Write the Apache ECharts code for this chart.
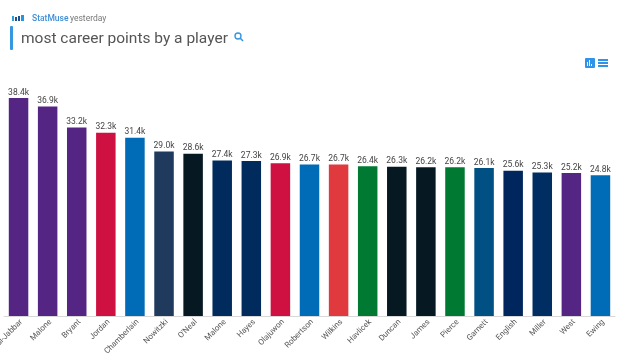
<!DOCTYPE html>
<html>
<head>
<meta charset="utf-8">
<style>
  html, body { margin: 0; padding: 0; background: #fff; }
  #main { width: 620px; height: 358px; }
</style>
<script src="https://cdn.jsdelivr.net/npm/echarts@6/dist/echarts.min.js"></script>
</head>
<body>
<div id="main"></div>
<script>
var players = ['Abdul-Jabbar', 'Malone', 'Bryant', 'Jordan', 'Chamberlain', 'Nowitzki', "O'Neal", 'Malone', 'Hayes', 'Olajuwon', 'Robertson', 'Wilkins', 'Havlicek', 'Duncan', 'James', 'Pierce', 'Garnett', 'English', 'Miller', 'West', 'Ewing'];
var points = [38.4, 36.9, 33.2, 32.3, 31.4, 29.0, 28.6, 27.4, 27.3, 26.9, 26.7, 26.7, 26.4, 26.3, 26.2, 26.2, 26.1, 25.6, 25.3, 25.2, 24.8];
var teamColors = ['#552583', '#552583', '#552583', '#ce1141', '#006bb6', '#203a5e', '#061922', '#002b5c', '#002b5c', '#ce1141', '#006bb6', '#e03a3e', '#007a33', '#061922', '#061922', '#007a33', '#005083', '#00275d', '#002d62', '#552583', '#006bb6'];

var myChart = echarts.init(document.getElementById('main'));

// bars coloured per player
var barData = points.map(function (v, i) {
  return { value: v, itemStyle: { color: teamColors[i] } };
});

var option = {
  animation: false,
  textStyle: { fontFamily: 'Roboto' },
  grid: { left: 4, right: 5, top: 89, bottom: 42, outerBoundsMode: 'none' },
  xAxis: {
    type: 'category',
    data: players,
    axisLine: { lineStyle: { color: '#d8d8d8', width: 1 } },
    axisTick: { alignWithLabel: true, length: 3, lineStyle: { color: '#d8d8d8' } },
    axisLabel: { interval: 0, rotate: 45, color: '#555', fontSize: 8, margin: 2, verticalAlign: 'top' }
  },
  yAxis: { type: 'value', min: 0, max: 40, show: false },
  series: [{
    type: 'bar',
    barWidth: 19.5,
    data: barData,
    label: {
      show: true,
      position: 'top',
      distance: 1,
      color: '#444',
      fontSize: 8.5,
      formatter: function (p) { return p.value.toFixed(1) + 'k'; }
    }
  }],
  graphic: [
    // logo bars
    { type: 'rect', shape: { x: 12, y: 16, width: 2, height: 5 }, style: { fill: '#2e9fd8' } },
    { type: 'rect', shape: { x: 15, y: 17, width: 2, height: 4 }, style: { fill: '#1d4f91' } },
    { type: 'rect', shape: { x: 18, y: 16, width: 2, height: 5 }, style: { fill: '#1d4f91' } },
    { type: 'rect', shape: { x: 21, y: 15, width: 3, height: 6 }, style: { fill: '#2196e3' } },
    { type: 'text', x: 32, y: 19, style: { text: 'StatMuse', fill: '#3d8fd6', fontSize: 8.5, fontWeight: 500, fontFamily: 'Roboto', verticalAlign: 'middle' } },
    { type: 'text', x: 70, y: 19, style: { text: 'yesterday', fill: '#777', fontSize: 8.5, fontFamily: 'Roboto', verticalAlign: 'middle' } },
    // search heading
    { type: 'rect', shape: { x: 10, y: 26, width: 3, height: 24, r: 1 }, style: { fill: '#3498e0' } },
    { type: 'text', x: 21, y: 39, style: { text: 'most career points by a player', fill: '#555', fontSize: 15.5, fontFamily: 'Roboto', verticalAlign: 'middle' } },
    { type: 'circle', shape: { cx: 238, cy: 36, r: 3 }, style: { fill: 'none', stroke: '#3498e0', lineWidth: 1.4 } },
    { type: 'line', shape: { x1: 240, y1: 38, x2: 243, y2: 41 }, style: { stroke: '#3498e0', lineWidth: 1.6 } },
    // chart / table toggle
    { type: 'rect', shape: { x: 585, y: 58, width: 10, height: 10, r: 1 }, style: { fill: '#2f94e8' } },
    { type: 'rect', shape: { x: 587, y: 62, width: 1, height: 4 }, style: { fill: '#fff' } },
    { type: 'rect', shape: { x: 589, y: 60, width: 1, height: 6 }, style: { fill: '#fff' } },
    { type: 'rect', shape: { x: 591, y: 64, width: 1, height: 2 }, style: { fill: '#fff' } },
    { type: 'rect', shape: { x: 598, y: 59, width: 10, height: 2 }, style: { fill: '#2f94e8' } },
    { type: 'rect', shape: { x: 598, y: 62, width: 10, height: 2 }, style: { fill: '#2f94e8' } },
    { type: 'rect', shape: { x: 598, y: 65, width: 10, height: 2 }, style: { fill: '#2f94e8' } }
  ]
};
myChart.setOption(option);
</script>
</body>
</html>
